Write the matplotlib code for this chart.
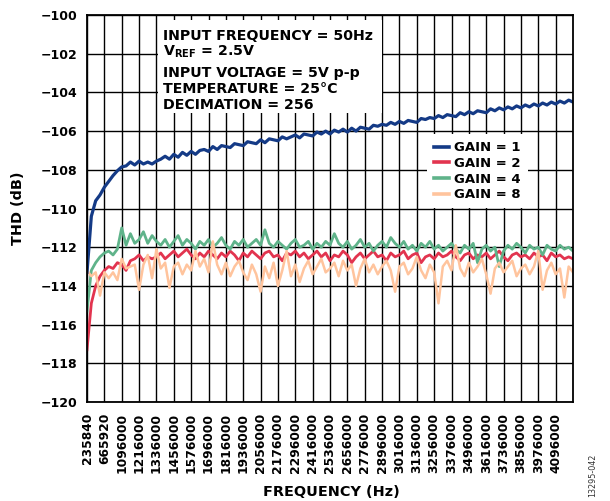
import numpy as np
import matplotlib
matplotlib.use('Agg')
import matplotlib.pyplot as plt
from matplotlib.patches import Rectangle

plt.rcParams['font.family'] = ['DejaVu Sans']
plt.rcParams['mathtext.fontset'] = 'dejavusans'

# ---- data -------------------------------------------------------------
freq_labels = ['235840', '665920', '1096000', '1216000', '1336000', '1456000',
               '1576000', '1696000', '1816000', '1936000', '2056000', '2176000',
               '2296000', '2416000', '2536000', '2656000', '2776000', '2896000',
               '3016000', '3136000', '3256000', '3376000', '3496000', '3616000',
               '3736000', '3856000', '3976000', '4096000']

y_ticks = [-120, -118, -116, -114, -112, -110, -108, -106, -104, -102, -100]

gain1 = [-113.3, -110.4, -109.6, -109.3, -108.9, -108.6, -108.3, -108.05, -107.85, -107.8,
         -107.6, -107.75, -107.55, -107.7, -107.6, -107.7, -107.55, -107.45, -107.3, -107.45,
         -107.2, -107.35, -107.1, -107.25, -107.05, -107.2, -107.0, -106.95, -107.05, -106.8,
         -106.95, -106.75, -106.8, -106.85, -106.65, -106.7, -106.75, -106.55, -106.6, -106.65,
         -106.45, -106.6, -106.4, -106.45, -106.5, -106.3, -106.4, -106.3, -106.2, -106.35,
         -106.15, -106.2, -106.25, -106.05, -106.15, -106.0, -106.15, -105.95, -106.05, -105.9,
         -106.05, -105.85, -106.0, -105.8, -105.85, -105.9, -105.7, -105.75, -105.65, -105.7,
         -105.55, -105.65, -105.5, -105.6, -105.45, -105.5, -105.55, -105.35, -105.4, -105.3,
         -105.35, -105.2, -105.3, -105.15, -105.2, -105.25, -105.05, -105.15, -105.0, -105.1,
         -104.95, -105.0, -105.05, -104.85, -104.95, -104.8, -104.9, -104.75, -104.85, -104.7,
         -104.8, -104.65, -104.75, -104.6, -104.7, -104.55, -104.65, -104.5, -104.6, -104.45,
         -104.55, -104.4, -104.5]

gain2 = [-117.3, -114.9, -114.0, -113.5, -113.2, -113.0, -113.1, -112.8, -112.9, -113.2,
         -112.7, -112.6, -112.4, -112.7, -112.5, -112.6, -112.5, -112.3, -112.6, -112.4,
         -112.2, -112.5, -112.3, -112.1, -112.4, -112.6, -112.3, -112.5, -112.2, -112.4,
         -112.6, -112.3, -112.5, -112.2, -112.4, -112.7, -112.3, -112.5, -112.2, -112.4,
         -112.6, -112.3, -112.2, -112.5, -112.4, -112.7, -112.3, -112.4, -112.2, -112.5,
         -112.3, -112.6, -112.4, -112.2, -112.5, -112.3, -112.7, -112.4, -112.5, -112.2,
         -112.4, -112.8, -112.5, -112.3, -112.6, -112.4, -112.2, -112.5, -112.4, -112.7,
         -112.3, -112.5, -112.4, -112.2, -112.6, -112.4, -112.3, -112.8, -112.5, -112.4,
         -112.6, -112.3, -112.5, -112.4, -112.2, -112.5, -112.7, -112.4, -112.3, -112.6,
         -112.4, -112.5, -112.3, -112.6, -112.4, -112.2, -112.5, -112.7, -112.4, -112.3,
         -112.5, -112.4, -112.6, -112.3, -112.5, -112.4, -112.7, -112.3, -112.5, -112.4,
         -112.6, -112.5, -112.6]

gain4 = [-115.3, -113.2, -112.8, -112.5, -112.3, -112.2, -112.4, -112.1, -111.0, -111.9,
         -111.3, -111.8, -111.6, -111.2, -111.8, -111.4, -111.7, -111.9, -111.6, -112.0,
         -111.7, -111.4, -111.9, -111.6, -111.8, -112.1, -111.7, -111.9, -111.6, -112.0,
         -111.8, -111.5, -111.9, -112.1, -111.7, -111.9, -111.6, -112.0, -111.8, -111.6,
         -111.9, -111.1, -111.8, -112.0, -111.7, -111.9, -112.1, -111.8, -111.6, -112.0,
         -111.9, -111.7, -112.1, -111.8, -112.0, -111.7, -111.9, -111.3, -111.8, -112.0,
         -111.7, -112.1, -111.9, -111.6, -112.0, -111.8, -112.2, -111.9, -111.7, -112.0,
         -111.5, -111.8, -112.0, -111.7, -112.1, -111.9, -112.2, -111.8, -112.0, -111.7,
         -112.1, -111.9, -112.2, -112.0, -111.8, -112.1, -112.3, -111.9, -112.1, -111.8,
         -112.8, -112.1, -111.9, -112.2, -112.0, -113.0, -112.2, -111.9, -112.1, -111.8,
         -112.0, -112.3, -111.9, -112.1, -112.0, -112.4, -111.9, -112.1, -112.2, -111.9,
         -112.1, -112.0, -112.2]

gain8 = [-113.2, -113.5, -113.3, -114.5, -113.3, -113.6, -113.3, -113.7, -112.6, -113.1,
         -113.0, -112.9, -114.2, -112.9, -112.4, -113.6, -112.1, -113.1, -112.8, -114.1,
         -113.0, -112.8, -113.4, -112.9, -113.2, -112.2, -113.0, -112.6, -113.3, -111.7,
         -112.9, -113.4, -112.8, -113.5, -113.0, -112.7, -113.3, -113.7, -112.9, -113.4,
         -114.3, -113.0, -113.6, -112.8, -114.0, -113.2, -112.2, -113.5, -112.9, -113.8,
         -113.1, -112.7, -113.4, -113.0, -112.6, -113.3, -113.1, -112.8, -113.5, -112.7,
         -113.2, -112.9, -114.0, -113.1, -112.6, -113.3, -112.9, -113.4, -113.0, -112.7,
         -113.2, -114.3, -113.0, -112.8, -113.4, -113.1, -112.5, -113.2, -113.6, -112.9,
         -113.3, -114.9, -113.0, -112.7, -113.2, -111.9, -113.1, -113.5, -112.8, -113.3,
         -113.0, -112.6, -113.4, -114.4, -113.1, -112.8, -113.3, -113.0, -112.7, -113.5,
         -113.1, -112.9, -113.4, -113.0, -112.2, -114.2, -113.2, -112.8, -113.4, -113.1,
         -114.6, -113.0, -113.3]

series_labels = ['GAIN = 1', 'GAIN = 2', 'GAIN = 4', 'GAIN = 8']
colors = ['#143a86', '#e2344f', '#5fb38a', '#ffc49d']

# ---- figure -----------------------------------------------------------
W, H = 610, 501
fig = plt.figure(figsize=(W / 100, H / 100), dpi=100)
ax = fig.add_axes([87 / W, 1 - 402 / H, (573 - 87) / W, (402 - 15) / H])

n_cat = len(freq_labels)

def xs(vals):
    return np.linspace(0, n_cat, len(vals))

l2 = ax.plot(xs(gain2), gain2, color=colors[1], lw=2.0, zorder=3, label=series_labels[1])[0]
l4 = ax.plot(xs(gain4), gain4, color=colors[2], lw=2.0, zorder=4, label=series_labels[2])[0]
l8 = ax.plot(xs(gain8), gain8, color=colors[3], lw=1.8, zorder=5, label=series_labels[3])[0]
l1 = ax.plot(xs(gain1), gain1, color=colors[0], lw=2.3, zorder=6, label=series_labels[0])[0]

ax.set_xlim(0, n_cat)
ax.set_ylim(-120, -100)
ax.set_xticks(range(n_cat))
ax.set_xticklabels(freq_labels, rotation=90, fontsize=8.8, fontweight='bold', va='top')
ax.set_yticks(y_ticks)
ax.set_yticklabels(['\u2212%d' % abs(v) for v in y_ticks], fontsize=9, fontweight='bold')
ax.tick_params(axis='both', length=0)
ax.tick_params(axis='y', pad=7)
ax.tick_params(axis='x', pad=8)
ax.set_axisbelow(True)
ax.grid(True, color='black', lw=1.0)
for s in ax.spines.values():
    s.set_linewidth(1.3)
    s.set_color('black')
    s.set_zorder(10)

# annotation box
ax.add_patch(Rectangle((158 / W, 1 - 113 / H), (382 - 158) / W, (113 - 20) / H,
                       transform=fig.transFigure, facecolor='white', edgecolor='none',
                       zorder=2))
ann_lines = ['INPUT FREQUENCY = 50Hz', r'V$_{\mathbf{REF}}$ = 2.5V',
             'INPUT VOLTAGE = 5V p-p', 'TEMPERATURE = 25°C', 'DECIMATION = 256']
ann_base = [40, 56, 76.7, 92.7, 109.3]
for t, b in zip(ann_lines, ann_base):
    fig.text(163 / W, 1 - b / H, t, fontsize=10.2, fontweight='bold',
             ha='left', va='baseline', zorder=7)

# legend
handles = [l1, l2, l4, l8]
leg = fig.legend(handles, series_labels, loc='upper left',
                 bbox_to_anchor=(427 / W, 1 - 134 / H), borderaxespad=0,
                 prop={'weight': 'bold', 'size': 9.5}, frameon=True, fancybox=False,
                 handlelength=1.15, handletextpad=0.35, labelspacing=0.2,
                 borderpad=0.55)
leg.get_frame().set_edgecolor('none')
leg.get_frame().set_facecolor('white')
leg.get_frame().set_alpha(1)
for lh in leg.get_lines():
    lh.set_linewidth(2.6)

fig.text(331 / W, 1 - 492.5 / H, 'FREQUENCY (Hz)', fontsize=10.4, fontweight='bold',
         ha='center', va='center')
fig.text(18 / W, 1 - 208.5 / H, 'THD (dB)', fontsize=10.4, fontweight='bold',
         ha='center', va='center', rotation=90)
fig.text(593 / W, 1 - 475 / H, '13295-042', fontsize=5.8, color='#333333',
         ha='center', va='center', rotation=90)

fig.savefig('out.png', dpi=100)
